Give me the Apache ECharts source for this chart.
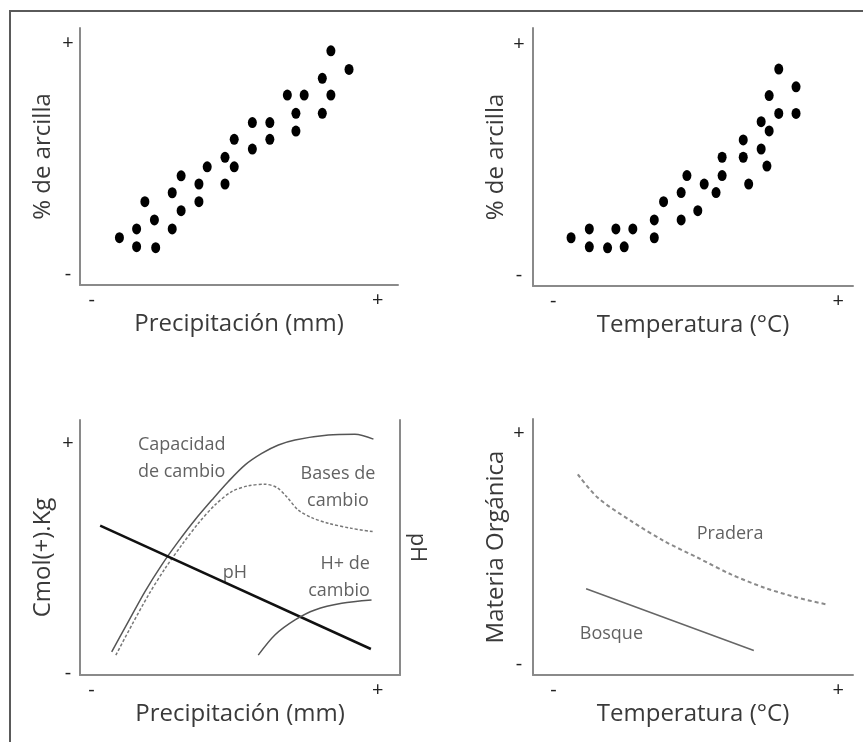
<!DOCTYPE html>
<html>
<head>
<meta charset="utf-8">
<title>Suelo</title>
<script src="https://cdn.jsdelivr.net/npm/echarts@6/dist/echarts.min.js"></script>
<style>
  html, body { margin: 0; padding: 0; background: #fff; overflow: hidden; }
  #wrap { position: relative; width: 863px; height: 742px; overflow: hidden; }
  #chart { position: absolute; left: 0; top: 0; width: 863px; height: 742px; }
  /* marco recortado de la figura original */
  #frame { position: absolute; left: 9px; top: 10px; width: 900px; height: 800px;
           border-top: 2px solid #5a5a5a; border-left: 2px solid #5a5a5a; pointer-events: none; }
</style>
</head>
<body>
<div id="wrap">
  <div id="chart"></div>
  <div id="frame"></div>
</div>
<script>
// % de arcilla vs precipitación (escala relativa 0-100)
const arcillaPrecip = [
  [12.4, 18.4], [17.8, 21.8], [17.8, 14.9], [20.4, 32.4], [23.4, 25.3], [23.8, 14.5],
  [29.0, 35.9], [29.0, 21.8], [31.8, 42.5], [31.8, 28.9], [37.4, 39.3], [37.4, 32.4],
  [40.0, 46.0], [45.6, 49.7], [45.6, 39.3], [48.5, 56.7], [48.5, 46.0], [54.2, 63.2],
  [54.2, 52.9], [59.7, 63.2], [59.7, 56.7], [65.2, 73.9], [67.9, 66.8], [67.9, 59.9],
  [70.5, 73.9], [76.2, 80.4], [76.2, 66.8], [78.9, 91.1], [78.9, 73.9], [84.6, 83.9]
];
// % de arcilla vs temperatura
const arcillaTemp = [
  [11.9, 18.7], [17.6, 22.1], [17.6, 15.2], [23.3, 14.8], [25.9, 22.1], [28.5, 15.2],
  [31.2, 22.1], [37.9, 25.6], [37.9, 18.7], [40.8, 32.7], [46.3, 36.2], [46.3, 25.6],
  [48.1, 42.8], [51.5, 29.2], [53.5, 39.5], [57.2, 36.2], [59.1, 49.9], [59.1, 42.8],
  [65.7, 56.6], [65.7, 49.9], [67.4, 39.5], [71.3, 63.7], [71.3, 53.1], [73.8, 73.8],
  [73.8, 60.1], [73.1, 46.5], [76.8, 84.1], [76.8, 66.9], [82.2, 77.2], [82.2, 66.9]
];
// curvas del panel de precipitación
const capacidadCambio = [
  [9.9, 9.1], [15.1, 20.9], [20.3, 32.7], [25.5, 43.1], [30.7, 52.3], [35.9, 60.8],
  [41.2, 68.6], [46.3, 75.8], [51.6, 82.4], [56.8, 86.9], [62.0, 90.2], [67.2, 92.2],
  [77.6, 94.1], [85.9, 94.4], [91.7, 92.5]
];
const basesCambio = [
  [11.2, 7.8], [16.2, 19.6], [21.4, 31.4], [26.6, 41.8], [31.8, 51.0], [37.0, 59.5],
  [42.2, 66.7], [47.4, 71.9], [52.6, 74.2], [57.8, 74.8], [61.5, 73.5], [64.6, 69.9],
  [68.2, 64.7], [72.4, 61.7], [77.6, 59.5], [84.9, 57.5], [91.7, 56.2]
];
const phLinea = [[6.3, 58.6], [90.9, 10.2]];
const hCambio = [
  [55.7, 7.8], [60.9, 15.7], [67.2, 21.6], [73.4, 25.5], [81.8, 28.1], [91.1, 29.4]
];
// materia orgánica vs temperatura
const pradera = [
  [14.0, 78.4], [20.2, 69.3], [30.6, 60.2], [41.0, 52.3], [51.5, 45.8],
  [61.9, 39.3], [72.3, 34.1], [82.7, 30.2], [91.6, 27.6]
];
const bosque = [[16.6, 33.7], [69.0, 9.6]];

// textos dentro de los paneles: [x, y, texto, alineación]
const notasPrecip = [
  [18.1, 85.0, 'Capacidad\nde cambio', 'left'],
  [80.6, 73.7, 'Bases de\ncambio', 'center'],
  [48.4, 40.0, 'pH', 'center'],
  [90.6, 38.4, 'H+ de\ncambio', 'right']
];
const notasTemp = [
  [61.6, 55.1, 'Pradera', 'center'],
  [24.5, 15.9, 'Bosque', 'center']
];

// etiquetas de los ejes
const signos = ['-', '+'];
const xSignPos = [[3.7, 93.6], [6.3, 95.4], [3.6, 93.0], [6.4, 95.4]];
const ySignPos = [[4.0, 94.0], [4.3, 93.8], [0.5, 91.0], [4.3, 94.3]];
const xTitulos = ['Precipitación (mm)', 'Temperatura (°C)', 'Precipitación (mm)', 'Temperatura (°C)'];
const yTitulos = ['% de arcilla', '% de arcilla', 'Cmol(+).Kg', 'Materia Orgánica'];

const FONT = '"Open Sans", sans-serif';
const TXT = '#3a3a3a';
const AXIS = '#8a8a8a';

const chart = echarts.init(document.getElementById('chart'), null, { renderer: 'canvas' });

function ejeX(i) {
  return {
    type: 'value', gridIndex: i, min: 0, max: 100,
    name: xTitulos[i], nameLocation: 'middle', nameGap: 27,
    nameTextStyle: { fontFamily: FONT, fontSize: 24, color: TXT },
    axisLine: { show: true, lineStyle: { color: AXIS, width: 2 } },
    axisTick: { show: false },
    splitLine: { show: false },
    axisLabel: {
      customValues: xSignPos[i], margin: 5,
      fontFamily: FONT, fontSize: 20, color: '#222',
      formatter: (v) => (v < 50 ? signos[0] : signos[1])
    }
  };
}

function ejeY(i, margin, pad) {
  return {
    type: 'value', gridIndex: i, min: 0, max: 100,
    name: yTitulos[i], nameLocation: 'middle', nameGap: 25,
    nameTextStyle: { fontFamily: FONT, fontSize: 24, color: TXT, padding: pad },
    axisLine: { show: true, lineStyle: { color: AXIS, width: 2 } },
    axisTick: { show: false },
    splitLine: { show: false },
    axisLabel: {
      customValues: ySignPos[i], margin: margin, align: 'center',
      fontFamily: FONT, fontSize: 20, color: '#222',
      formatter: (v) => (v < 50 ? signos[0] : signos[1])
    }
  };
}

function puntos(i, data) {
  return {
    type: 'scatter', xAxisIndex: i, yAxisIndex: i, data: data,
    symbol: 'circle', symbolSize: [9, 11],
    itemStyle: { color: '#000', opacity: 1 }, silent: true
  };
}

function curva(i, data, color, width, type, smooth) {
  return {
    type: 'line', xAxisIndex: i, yAxisIndex: i, data: data,
    symbol: 'none', smooth: smooth, silent: true,
    lineStyle: { color: color, width: width, type: type }
  };
}

function notas(i, lista) {
  return {
    type: 'scatter', xAxisIndex: i, yAxisIndex: i, symbolSize: 0, silent: true,
    data: lista.map((n) => ({
      value: [n[0], n[1]], name: n[2],
      label: { align: n[3] }
    })),
    label: {
      show: true, position: 'inside', formatter: (p) => p.name,
      fontFamily: FONT, fontSize: 18, color: TXT, lineHeight: 27
    }
  };
}

const yAxes = [ejeY(0, 12, 0), ejeY(1, 14, 0), ejeY(2, 12, [0, 20, 0, 0]), ejeY(3, 14, 0)];
// eje derecho de pH en el panel de precipitación
yAxes.push({
  type: 'value', gridIndex: 2, position: 'right', min: 0, max: 100,
  name: 'pH', nameLocation: 'middle', nameGap: 6, nameRotate: -90,
  nameTextStyle: { fontFamily: FONT, fontSize: 22, color: TXT },
  axisLine: { show: true, lineStyle: { color: AXIS, width: 2 } },
  axisTick: { show: false }, axisLabel: { show: false }, splitLine: { show: false }
});

const option = {
  backgroundColor: '#fff',
  animation: false,
  grid: [
    { left: 80, top: 28, width: 318, height: 257 },
    { left: 533, top: 28, width: 320, height: 258 },
    { left: 80, top: 420, width: 320, height: 255 },
    { left: 533, top: 419, width: 320, height: 256 }
  ],
  xAxis: [ejeX(0), ejeX(1), ejeX(2), ejeX(3)],
  yAxis: yAxes,
  series: [
    puntos(0, arcillaPrecip),
    puntos(1, arcillaTemp),
    curva(2, capacidadCambio, '#555', 1.5, 'solid', 0.3),
    curva(2, basesCambio, '#777', 1.5, [3, 2], 0.3),
    curva(2, phLinea, '#111', 2.5, 'solid', false),
    curva(2, hCambio, '#555', 1.5, 'solid', 0.3),
    notas(2, notasPrecip),
    curva(3, pradera, '#8a8a8a', 2, [4, 3], 0.3),
    curva(3, bosque, '#666', 1.5, 'solid', false),
    notas(3, notasTemp)
  ]
};

chart.setOption(option);
</script>
</body>
</html>
